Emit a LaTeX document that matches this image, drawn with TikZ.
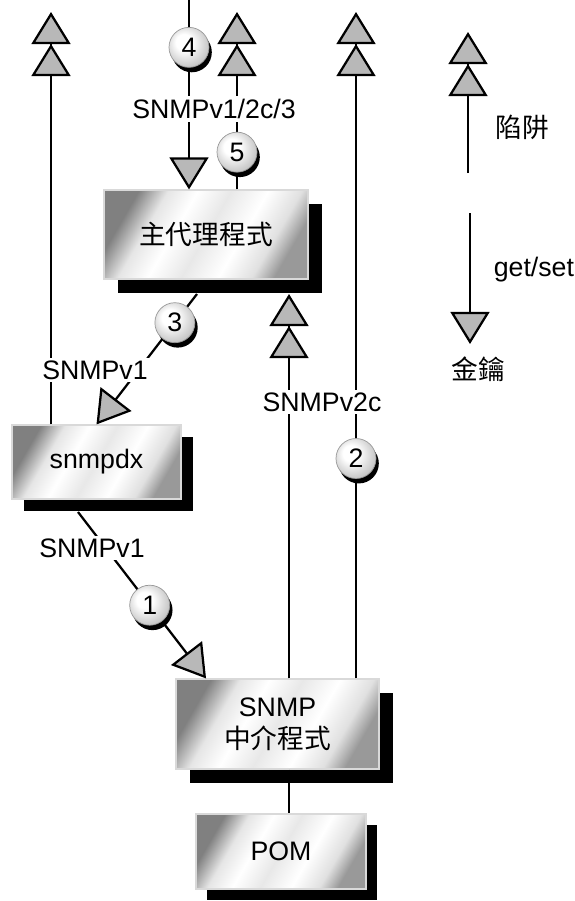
\documentclass[tikz,border=0pt]{standalone}
\usepackage{fontspec}
\setmainfont{Liberation Sans}
\newfontfamily\cjk{Noto Sans CJK TC}
\usetikzlibrary{arrows.meta, shadows, calc}

\pgfdeclarehorizontalshading{metal}{100bp}{color(0bp)=(black!50); color(25bp)=(black!50); color(33bp)=(white!90!black); color(41bp)=(white); color(50bp)=(black!9); color(60bp)=(white); color(69bp)=(black!12); color(75bp)=(black!40); color(100bp)=(black!40)}
\pgfdeclareradialshading{pearl}{\pgfpoint{-8bp}{8bp}}{color(0bp)=(white); color(10bp)=(white); color(28bp)=(black!22); color(40bp)=(black!45); color(50bp)=(black!45)}

\begin{document}
\begin{tikzpicture}[x=0.025cm, y=-0.025cm,
    font=\fontsize{19}{23}\selectfont,
    line width=1.6pt,
    box/.style={rectangle, shading=metal, shading angle=-30, draw=white!85!black, line width=0.8pt, general shadow={fill=black, shadow xshift=#1, shadow yshift=-#1}},
    box/.default=10pt,
    num/.style={circle, minimum size=1.0cm, inner sep=0pt, shading=pearl, draw=black!40, line width=0.5pt, general shadow={fill=black, shadow xshift=2pt, shadow yshift=-3.5pt}},
    lbl/.style={fill=white, inner sep=2pt},
    up/.style={-{Triangle[length=0.8cm, width=0.97cm, fill=black!28]Triangle[length=0.8cm, width=0.97cm, fill=black!28]}},
    down/.style={-{Triangle[length=0.8cm, width=0.97cm, fill=black!28]}}
]
    \useasboundingbox (0,0) rectangle (574,901);

    % Boxes
    \node[box, minimum width=5.1cm, minimum height=2.225cm] (agent) at (206,234.5) {\cjk 主代理程式};
    \node[box=8.5pt, minimum width=4.225cm, minimum height=1.85cm] (snmpdx) at (96.5,462) {snmpdx};
    \node[box, minimum width=5.075cm, minimum height=2.25cm, align=center] (master) at (277.5,724) {SNMP\\{\cjk 中介程式}};
    \node[box=8pt, minimum width=4.25cm, minimum height=1.875cm] (pom) at (281,851.5) {POM};

    % Free ends
    \coordinate (tl) at (51,12);
    \coordinate (t4) at (189,0);
    \coordinate (t5) at (237,12);
    \coordinate (tr) at (356,12);
    \coordinate (s3) at (197,294);
    \coordinate (sm) at (289,294);
    \coordinate (s1) at (78,512);

    % Traps
    \draw[up] (snmpdx.north -| tl) -- (tl);
    \draw[up] (t5 |- agent.north) -- node[num, pos=0.21] (n5) {5} (t5);
    \draw[up] (sm |- master.north) -- (sm);
    \draw[up] (tr |- master.north) -- node[num, pos=0.33] (n2) {2} (tr);

    % get/set
    \draw[down] (t4) -- node[num, pos=0.25] (n4) {4} (t4 |- agent.north);
    \draw[down] (s3) -- node[num, pos=0.22] (n3) {3} (snmpdx.north);
    \draw[down] (s1) -- node[num, pos=0.56] (n1) {1} ($(master.north west)!0.15!(master.north east)$);
    \draw (sm |- master.south) -- (sm |- pom.north);

    % Protocol labels
    \node[lbl] (v123) at (214,109) {SNMPv1/2c/3};
    \node[lbl] (v1a) at (95,370) {SNMPv1};
    \node[lbl] (v2c) at (322,402) {SNMPv2c};
    \node[lbl] (v1b) at (92,548) {SNMPv1};

    % Legend
    \coordinate (lt) at (468,32);
    \coordinate (lb) at (468,173);
    \coordinate (gt) at (470,213);
    \coordinate (gb) at (470,344);
    \draw[up] (lb) -- (lt);
    \draw[down] (gt) -- (gb);
    \node[anchor=west] (trap) at (490,127) {\cjk 陷阱};
    \node[anchor=west] (getset) at (488,270) {get/set};
    \node (key) at (478,369) {\cjk 金鑰};
\end{tikzpicture}
\end{document}
